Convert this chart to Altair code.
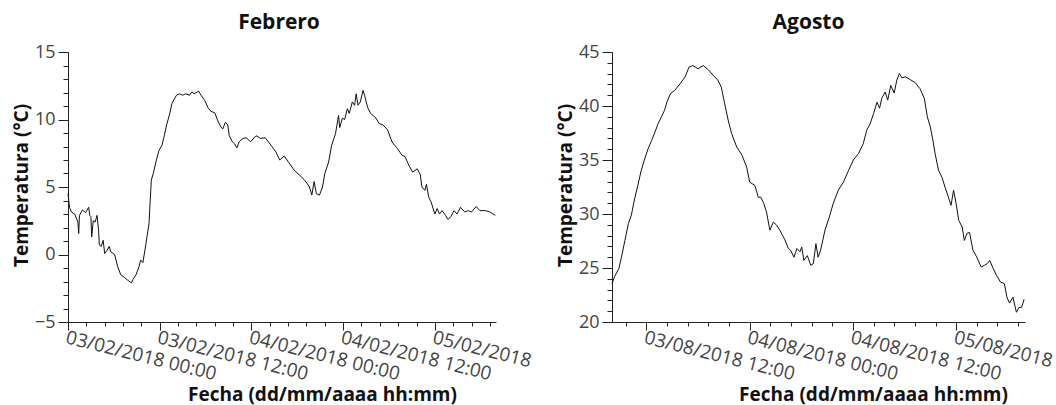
import altair as alt
import pandas as pd

# ---------------- data ----------------
# hours since 03/02/2018 00:00
feb_hours = [0.0, 0.2, 0.45, 0.87, 1.3, 1.4, 1.5, 1.9, 2.3, 2.7, 2.85, 3.0, 3.1, 3.3, 3.55, 3.8,
             4.0, 4.1, 4.35, 4.6, 4.8, 5.1, 5.4, 5.6, 6.1, 6.5, 6.9, 7.4, 7.8, 8.3, 8.5, 8.9,
             9.3, 9.5, 9.8, 10.2, 10.6, 10.9, 11.2, 11.5, 11.9, 12.3, 12.6, 12.9, 13.3, 13.6,
             14.2, 14.6, 15.0, 15.4, 15.9, 16.2, 16.5, 17.1, 17.4, 17.9, 18.3, 18.7, 19.2,
             19.6, 20.0, 20.25, 20.6, 20.9, 21.1, 21.5, 21.8, 22.1, 22.4, 22.9, 23.3, 23.9,
             24.6, 25.2, 25.8, 26.55, 27.2, 27.7, 28.3, 28.9, 29.6, 30.25, 30.9, 31.3, 31.6,
             31.9, 32.2, 32.5, 32.9, 33.3, 33.6, 34.1, 34.5, 35.0, 35.4, 35.55, 35.9, 36.2,
             36.55, 36.8, 37.2, 37.5, 37.7, 37.95, 38.25, 38.6, 38.8, 39.2, 39.6, 40.3, 40.7,
             41.2, 41.8, 42.4, 43.1, 43.7, 44.1, 44.6, 45.1, 45.7, 46.1, 46.3, 46.7, 46.9,
             47.2, 47.5, 48.0, 48.3, 48.6, 48.95, 49.4, 49.7, 50.1, 50.5, 50.9, 51.35, 51.9,
             52.4, 52.8, 53.4, 53.9, 54.6, 55.2, 55.9]
feb_temp = [4.5, 3.5, 3.15, 3.0, 2.4, 1.55, 2.9, 3.3, 3.1, 3.5, 2.9, 2.8, 1.3, 2.5, 2.4, 2.9,
            1.8, 0.7, 0.6, 1.05, 0.07, 0.3, 0.6, 0.2, 0.0, -0.9, -1.5, -1.7, -1.9, -2.1, -1.85, -1.5,
            -0.9, -0.4, -0.6, 0.8, 2.3, 5.5, 6.1, 6.85, 7.7, 8.1, 8.8, 9.6, 10.4, 11.2,
            11.8, 11.9, 11.8, 11.9, 11.8, 12.05, 11.9, 12.1, 11.8, 11.4, 10.9, 10.6, 10.5,
            9.9, 9.45, 9.3, 9.8, 9.6, 8.8, 8.35, 8.2, 7.9, 8.35, 8.6, 8.65, 8.35,
            8.8, 8.6, 8.65, 8.1, 7.6, 7.0, 7.3, 6.8, 6.25, 5.9, 5.55, 5.25, 5.0,
            4.4, 5.4, 4.5, 4.4, 5.0, 6.0, 6.85, 8.1, 8.95, 10.3, 9.4, 10.1, 10.0,
            10.8, 10.45, 11.3, 11.05, 11.9, 11.05, 11.3, 12.15, 11.8, 10.9, 10.45, 10.1, 9.7,
            9.6, 9.25, 8.33, 7.85, 7.35, 7.25, 6.6, 6.1, 6.35, 5.9, 5.0, 4.75, 5.2,
            4.25, 3.9, 3.0, 3.4, 3.0, 3.25, 2.9, 2.6, 2.8, 3.25, 3.0, 3.5, 3.15,
            3.25, 3.15, 3.55, 3.25, 3.25, 3.15, 2.9]

# hours since 03/08/2018 00:00
ago_hours = [8.0, 8.3, 8.8, 9.1, 9.5, 9.9, 10.25, 10.6, 11.0, 11.4, 11.8, 12.2, 12.6, 13.0,
             13.35, 13.75, 14.1, 14.4, 14.8, 15.3, 15.9, 16.5, 16.95, 17.4, 18.0, 18.6, 19.2,
             19.75, 20.3, 20.7, 21.1, 21.5, 21.9, 22.5, 23.1, 23.65, 24.0, 24.6, 25.0, 25.3,
             25.65, 25.95, 26.35, 26.75, 27.1, 27.5, 28.1, 28.5, 28.75, 29.15, 29.5, 29.85,
             30.05, 30.3, 30.7, 31.1, 31.4, 31.7, 31.95, 32.25, 32.75, 33.25, 33.7, 34.3,
             34.9, 35.5, 36.05, 36.65, 37.2, 37.6, 38.0, 38.4, 38.8, 39.1, 39.35, 39.75,
             40.05, 40.4, 40.8, 41.1, 41.4, 41.7, 42.1, 42.65, 43.25, 43.8, 44.3, 44.65,
             45.0, 45.3, 45.55, 45.95, 46.35, 46.7, 47.1, 47.4, 47.7, 48.0, 48.3, 48.7,
             48.95, 49.25, 49.55, 49.95, 50.4, 50.9, 51.3, 51.6, 51.9, 52.3, 52.7, 53.15,
             53.6, 53.9, 54.2, 54.6, 55.0, 55.3, 55.6, 55.9]
ago_temp = [23.55, 24.2, 24.95, 26.0, 27.55, 29.1, 29.9, 31.3, 32.65, 34.05, 35.1, 36.05, 36.8, 37.6,
            38.35, 39.0, 39.6, 40.4, 41.15, 41.45, 42.05, 42.7, 43.6, 43.75, 43.45, 43.75, 43.35,
            42.85, 42.4, 41.75, 40.2, 38.7, 37.45, 36.2, 35.45, 34.35, 32.95, 32.65, 31.55, 31.55,
            30.95, 30.2, 28.5, 29.25, 29.0, 28.5, 27.6, 26.8, 26.65, 26.0, 26.8, 26.5,
            26.95, 25.7, 26.15, 25.25, 25.4, 27.25, 26.0, 26.65, 28.5, 29.7, 30.95, 32.2,
            32.95, 34.05, 35.0, 35.6, 36.5, 37.75, 38.35, 39.3, 40.35, 39.8, 40.7, 41.3,
            40.55, 41.9, 41.2, 42.4, 43.0, 42.6, 42.7, 42.45, 42.15, 41.6, 40.7, 39.0,
            38.05, 36.8, 35.6, 34.05, 33.4, 32.5, 31.55, 30.8, 32.2, 30.95, 29.4, 28.8,
            27.55, 28.2, 28.3, 26.65, 26.0, 25.1, 25.25, 25.4, 25.7, 24.95, 24.3, 23.7,
            23.55, 22.3, 21.75, 22.3, 20.9, 21.35, 21.35, 22.1]

# axis ticks and labels
feb_major = [0, 12, 24, 36, 48]
feb_labels = ["03/02/2018 00:00", "03/02/2018 12:00", "04/02/2018 00:00",
              "04/02/2018 12:00", "05/02/2018"]
feb_minor = [0, 2.4, 4.8, 7.2, 9.6, 12, 14.4, 16.8, 19.2, 21.6, 24, 26.4, 28.8, 31.2,
             33.6, 36, 38.4, 40.8, 43.2, 45.6, 48, 50.4, 52.8, 55.2]
ago_major = [12, 24, 36, 48]
ago_labels = ["03/08/2018 12:00", "04/08/2018 00:00", "04/08/2018 12:00", "05/08/2018"]
ago_minor = [9.6, 12, 14.4, 16.8, 19.2, 21.6, 24, 26.4, 28.8, 31.2, 33.6, 36, 38.4,
             40.8, 43.2, 45.6, 48, 50.4, 52.8, 55.2]

feb_y_major = [-5, 0, 5, 10, 15]
feb_y_minor = list(range(-5, 16))
ago_y_major = [20, 25, 30, 35, 40, 45]
ago_y_minor = list(range(20, 46))

FONT = "Open Sans"
X_TITLE = "Fecha (dd/mm/aaaa hh:mm)"
Y_TITLE = "Temperatura (°C)"


def label_expr(values, labels):
    expr = "''"
    for v, l in reversed(list(zip(values, labels))):
        expr = f"datum.value == {v} ? '{l}' : {expr}"
    return expr


def panel(hours, temps, title, title_dx, xdom, xmajor, xlabels, xminor,
          ydom, ymajor, yminor, width, x_title_x):
    df = pd.DataFrame({"h": hours, "t": temps})
    xs = alt.Scale(domain=xdom, nice=False, zero=False)
    ys = alt.Scale(domain=ydom, nice=False, zero=False)

    main = alt.Chart(df).mark_line(color="#111111", strokeWidth=1).encode(
        x=alt.X("h:Q", scale=xs, axis=alt.Axis(
            orient="bottom", values=xmajor, labelExpr=label_expr(xmajor, xlabels),
            labelAngle=14, labelAlign="left", labelBaseline="top",
            labelOverlap=False, labelFlush=False, labelBound=False,
            tickSize=8, labelPadding=-2, labelFontSize=19,
            title=X_TITLE, titleX=x_title_x, titleY=78, titleAlign="center",
            titleBaseline="alphabetic", grid=False)),
        y=alt.Y("t:Q", scale=ys, axis=alt.Axis(
            orient="left", values=ymajor, tickSize=10, labelPadding=3,
            title=Y_TITLE, titleX=-47, titleY=133, titleAlign="center",
            titleBaseline="middle", titleAngle=270, grid=False)),
    )
    minor = alt.Chart(df).mark_line(opacity=0).encode(
        x=alt.X("h:Q", scale=xs, axis=alt.Axis(
            orient="bottom", values=xminor, labels=False, tickSize=4,
            domain=False, title=None, grid=False)),
        y=alt.Y("t:Q", scale=ys, axis=alt.Axis(
            orient="left", values=yminor, labels=False, tickSize=5,
            domain=False, title=None, grid=False)),
    )
    return alt.layer(main, minor).resolve_axis(x="independent", y="independent").properties(
        width=width, height=270,
        title=alt.TitleParams(text=title, fontSize=21, fontWeight="bold", font=FONT,
                              anchor="middle", frame="group", offset=-7,
                              baseline="alphabetic", dx=title_dx, color="#111111"),
    )


feb = panel(feb_hours, feb_temp, "Febrero", -3, [0, 56], feb_major, feb_labels, feb_minor,
            [-5, 15], feb_y_major, feb_y_minor, 428, 254)
ago = panel(ago_hours, ago_temp, "Agosto", -10, [8, 56], ago_major, ago_labels, ago_minor,
            [20, 45], ago_y_major, ago_y_minor, 413, 261)

chart = alt.hconcat(feb, ago, spacing=116, bounds="flush").properties(
    autosize=alt.AutoSizeParams(type="none"),
    padding={"left": 68, "top": 52, "right": 988, "bottom": 353},
    background="white",
).configure_view(stroke=None).configure_axis(
    domainColor="#222222", tickColor="#222222", labelColor="#444444",
    labelFont=FONT, labelFontSize=18, titleFont=FONT, titleFontSize=19,
    titleFontWeight="bold", titleColor="#111111",
)

chart.save("out.html", embed_options={"renderer": "svg", "actions": False})
